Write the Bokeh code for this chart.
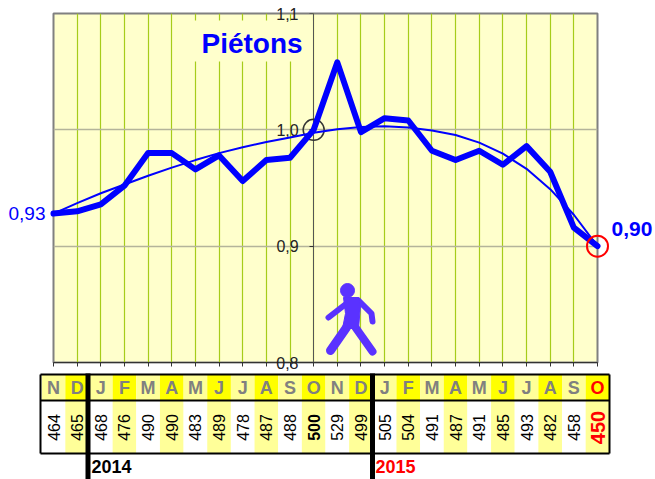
import math
from bokeh.embed import file_html
from bokeh.resources import INLINE
from bokeh.plotting import figure
from bokeh.models import Range1d, FixedTicker, ColumnDataSource
from bokeh.core.properties import value

months = ["N","D","J","F","M","A","M","J","J","A","S","O","N","D","J","F","M","A","M","J","J","A","S","O"]
counts = [464,465,468,476,490,490,483,489,478,487,488,500,529,499,505,504,491,487,491,485,493,482,458,450]
base = 500
trend = [0.928,0.937,0.9455,0.953,0.9605,0.9675,0.974,0.980,0.985,0.9895,0.9935,0.9975,
         1.0005,1.0025,1.003,1.002,0.9995,0.9955,0.989,0.9795,0.9665,0.949,0.927,0.900]
y_ticks = {0.8:"",0.9:"0,9",1.0:"1,0",1.1:""}
FONT = "Liberation Sans"
BLUE = "#0000FF"
WALK = "#5A32FF"

n = len(counts)
idx = list(range(n))
ratio = [c/base for c in counts]

p = figure(width=655, height=479, output_backend="svg", toolbar_location=None,
           x_range=Range1d(0, n-1), y_range=Range1d(0.8, 1.1),
           min_border_left=53, min_border_right=58, min_border_top=13, min_border_bottom=117,
           background_fill_color="#FFFFCC", border_fill_color="white",
           outline_line_color="#808080", outline_line_width=2)
p.extra_y_ranges["px"] = Range1d(362, 13)
p.extra_x_ranges["px"] = Range1d(53, 597)

# axes
p.xaxis.ticker = FixedTicker(ticks=idx)
p.xaxis.major_label_text_font_size = "0px"
p.xaxis.major_label_text_color = None
p.xaxis.axis_line_color = "#333333"
p.xaxis.major_tick_line_color = "#333333"
p.xaxis.major_tick_in = 0
p.xaxis.major_tick_out = 4
p.yaxis.fixed_location = 11
p.yaxis.ticker = FixedTicker(ticks=list(y_ticks))
p.yaxis.major_label_overrides = y_ticks
p.yaxis.major_label_text_font = FONT
p.yaxis.major_label_text_font_size = "16px"
p.yaxis.major_label_text_color = "#222222"
p.yaxis.major_label_standoff = 11
p.yaxis.axis_line_color = "#555555"
p.yaxis.major_tick_line_color = "#333333"
p.yaxis.major_tick_in = 0
p.yaxis.major_tick_out = 4
p.yaxis.minor_tick_line_color = None
p.xaxis.minor_tick_line_color = None
p.xgrid.ticker = FixedTicker(ticks=idx)
p.xgrid.grid_line_color = "#A6CC1A"
p.xgrid.grid_line_width = 1.2
p.ygrid.ticker = FixedTicker(ticks=[0.9, 1.0])
p.ygrid.grid_line_color = "#B4B49A"
p.ygrid.grid_line_width = 1.5

# title backing
p.quad(left=[190], right=[312], top=[20], bottom=[61], fill_color="#FFFFCC", line_color=None,
       x_range_name="px", y_range_name="px", level="glyph")

# series
p.scatter([11], [1.0], size=21, marker="circle", fill_color=None, line_color="#333333", line_width=1.5, level="overlay")
p.line(idx, trend, line_color=BLUE, line_width=2, level="overlay")
p.line(idx, ratio, line_color=BLUE, line_width=6, line_join="round", line_cap="round", level="overlay")
p.scatter([n-1], [ratio[-1]], size=21, marker="circle", fill_color=None, line_color="#FF0000", line_width=2, level="overlay")

def txt(x, y, t, size, color, bold=False, align="left", angle=0.0, x_px=True):
    p.text([x], [y], text=[t], text_font=value(FONT), text_font_size=size, text_color=color,
           text_font_style="bold" if bold else "normal", text_align=align, text_baseline="middle",
           angle=angle, x_range_name="px" if x_px else "default", y_range_name="px", level="overlay")

txt(201, 43, "Piétons", "28px", BLUE, True)
txt(8, 213, "0,93", "19px", BLUE)
txt(611, 228, "0,90", "21px", BLUE, True)
txt(298, 13, "1,1", "16px", "#222222", align="right")
txt(298, 362, "0,8", "16px", "#222222", align="right")

# walker
p.multi_line(xs=[[346,328],[358,371,372],[346,330],[355,372]],
             ys=[[303,317],[300,313,321],[327,350],[327,351]],
             line_color=WALK, line_width=[6,6,9,8], line_cap="round", line_join="round",
             x_range_name="px", y_range_name="px", level="overlay")
p.patch([343,358,360,358,342,345], [297,297,305,328,328,313], fill_color=WALK, line_color=WALK,
        x_range_name="px", y_range_name="px", level="overlay")
p.scatter([347], [290], size=14, marker="circle", fill_color=WALK, line_color=WALK,
          x_range_name="px", y_range_name="px", level="overlay")

# table
left = [i-0.5 for i in idx]
right = [i+0.5 for i in idx]
head_fill = ["#FFFF00" if i % 2 else "#FFFF99" for i in idx]
body_fill = ["#FFFF99" if i % 2 else "#FFFFFF" for i in idx]
src = ColumnDataSource(dict(left=left, right=right, head=head_fill, body=body_fill,
                            x=idx, m=months, c=[str(c) for c in counts]))
p.quad(left="left", right="right", top=374, bottom=400, fill_color="head", line_color=None, source=src,
       y_range_name="px", level="overlay")
p.quad(left="left", right="right", top=400, bottom=453, fill_color="body", line_color=None, source=src,
       y_range_name="px", level="overlay")
for i in idx:
    last = i == n-1
    p.text([i], [387], text=[months[i]], text_font=value(FONT), text_font_size="18px", text_font_style="bold",
           text_color="#FF0000" if last else "#808080", text_align="center", text_baseline="middle",
           y_range_name="px", level="overlay")
    big = last
    p.text([i], [427], text=[str(counts[i])], text_font=value(FONT),
           text_font_size="20px" if big else "16px",
           text_font_style="bold" if (big or i == 11) else "normal",
           text_color="#FF0000" if big else "#000000", text_align="center", text_baseline="middle",
           angle=math.pi/2, y_range_name="px", level="overlay")
# table rules
p.multi_line(xs=[[40,609],[40,609],[40,609],[40,40],[609,609]],
             ys=[[374,374],[400,400],[453,453],[374,453],[374,453]],
             line_color="black", line_width=2, x_range_name="px", y_range_name="px", level="overlay")
p.multi_line(xs=[[87.5,87.5],[372,372]], ys=[[373,479],[373,479]],
             line_color="black", line_width=5, x_range_name="px", y_range_name="px", level="overlay")
txt(91, 466, "2014", "18px", "#000000", True)
txt(375, 466, "2015", "18px", "#FF0000", True)

open("out.html", "w").write(file_html(p, INLINE))
